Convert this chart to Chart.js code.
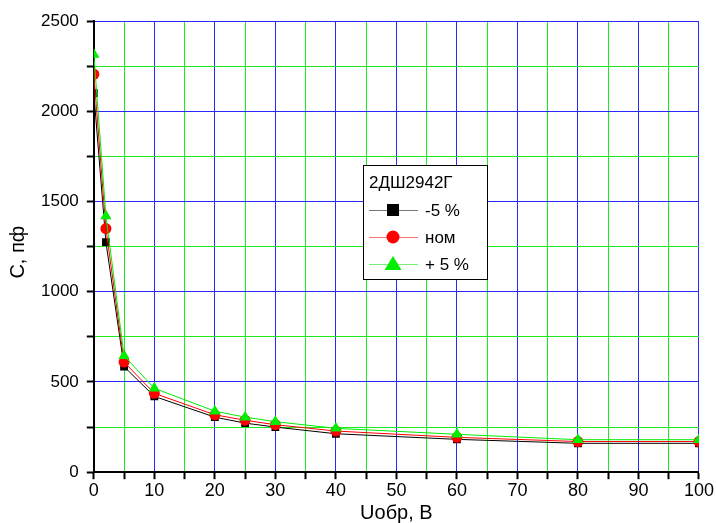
<!DOCTYPE html>
<html>
<head>
<meta charset="utf-8">
<script src="https://cdn.jsdelivr.net/npm/chart.js@4/dist/chart.umd.min.js"></script>
<style>
  html, body { margin: 0; padding: 0; background: #fff; }
  #wrap { width: 716px; height: 523px; }
</style>
</head>
<body>
<div id="wrap"><canvas id="grafico"></canvas></div>
<script>
// напряжение, В
var uobr = [0, 2, 5, 10, 20, 25, 30, 40, 60, 80, 100];
// ёмкость, пф
var cMinus5 = [2100, 1275, 585, 420, 305, 272, 250, 213, 182, 160, 160];
var cNom    = [2205, 1350, 610, 437, 318, 288, 263, 228, 193, 170, 170];
var cPlus5  = [2315, 1420, 645, 465, 338, 305, 280, 243, 210, 180, 180];

var legendTitle = '2ДШ2942Г';
var seriesNames = ['-5 %', 'ном', '+ 5 %'];

var BLUE = 'rgb(40,40,255)';
var GREEN = 'rgb(30,235,30)';
var FONT = 'Arial, "Liberation Sans", sans-serif';

function pts(ys) {
	return uobr.map(function(x, i) { return { x: x, y: ys[i] }; });
}

// легенда внутри области графика
var legendaInterna = {
	id: 'legendaInterna',
	afterDraw: function(chart) {
		var ctx = chart.ctx;
		var x0 = 363, y0 = 165, w = 124, h = 114;
		ctx.save();
		ctx.fillStyle = '#fff';
		ctx.fillRect(x0, y0, w, h);
		ctx.strokeStyle = '#000';
		ctx.lineWidth = 1;
		ctx.strokeRect(x0 + 0.5, y0 + 0.5, w, h);
		ctx.fillStyle = '#000';
		ctx.font = '17px ' + FONT;
		ctx.textBaseline = 'middle';
		ctx.fillText(legendTitle, x0 + 6, y0 + 18);
		chart.data.datasets.forEach(function(ds, i) {
			var y = y0 + 45 + i * 27;
			var cx = x0 + 30;
			ctx.strokeStyle = ds.legendLine;
			ctx.lineWidth = 1;
			ctx.beginPath();
			ctx.moveTo(x0 + 6, y + 0.5);
			ctx.lineTo(x0 + 55, y + 0.5);
			ctx.stroke();
			ctx.fillStyle = ds.pointBackgroundColor;
			ctx.beginPath();
			if (ds.pointStyle === 'rect') {
				ctx.fillRect(cx - 6, y - 6, 12, 12);
			} else if (ds.pointStyle === 'circle') {
				ctx.arc(cx, y, 6.5, 0, Math.PI * 2);
				ctx.fill();
			} else {
				ctx.moveTo(cx, y - 8);
				ctx.lineTo(cx + 8.5, y + 6);
				ctx.lineTo(cx - 8.5, y + 6);
				ctx.closePath();
				ctx.fill();
			}
			ctx.fillStyle = '#000';
			ctx.font = '17px ' + FONT;
			ctx.fillText(seriesNames[i], x0 + 62, y + 1);
		});
		ctx.restore();
	}
};

var grafico = new Chart(document.getElementById('grafico').getContext('2d'), {
	type: 'line',
	data: {
		datasets: [{
			label: seriesNames[0],
			data: pts(cMinus5),
			borderColor: '#000',
			legendLine: '#777',
			borderWidth: 1,
			pointStyle: 'rect',
			pointRadius: 5.5,
			pointBackgroundColor: '#000',
			pointBorderColor: '#000',
			pointBorderWidth: 0,
			order: 3
		}, {
			label: seriesNames[1],
			data: pts(cNom),
			borderColor: '#ff0000',
			legendLine: '#ff7070',
			borderWidth: 1,
			pointStyle: 'circle',
			pointRadius: 5.5,
			pointBackgroundColor: '#ff0000',
			pointBorderColor: '#ff0000',
			pointBorderWidth: 0,
			order: 2
		}, {
			label: seriesNames[2],
			data: pts(cPlus5),
			borderColor: '#00ee00',
			legendLine: '#77ee77',
			borderWidth: 1,
			pointStyle: 'triangle',
			pointRadius: 6.5,
			pointBackgroundColor: '#00ee00',
			pointBorderColor: '#00ee00',
			pointBorderWidth: 0,
			order: 1
		}]
	},
	options: {
		responsive: true,
		maintainAspectRatio: false,
		animation: false,
		layout: { padding: { top: 21, right: 2, left: 8, bottom: 0 } },
		plugins: {
			legend: { display: false },
			tooltip: { enabled: false }
		},
		scales: {
			x: {
				type: 'linear',
				min: 0,
				max: 100,
				ticks: {
					stepSize: 5,
					color: '#000',
					font: { size: 18, family: FONT, lineHeight: 1.1 },
					padding: 2,
					maxRotation: 0,
					autoSkip: false,
					callback: function(v) { return v % 10 === 0 ? v : ''; }
				},
				grid: {
					color: function(c) { return c.tick && c.tick.value % 10 === 0 ? BLUE : GREEN; },
					lineWidth: 1,
					tickColor: '#000',
					tickLength: 7,
					tickWidth: 2
				},
				border: { color: '#000', width: 2 },
				title: {
					display: true,
					text: 'Uобр, В',
					color: '#000',
					font: { size: 20, family: FONT, lineHeight: 1 },
					padding: { top: 0, bottom: 0 }
				}
			},
			y: {
				min: 0,
				max: 2500,
				ticks: {
					stepSize: 250,
					color: '#000',
					font: { size: 17, family: FONT },
					padding: 8,
					autoSkip: false,
					callback: function(v) { return v % 500 === 0 ? v : ''; }
				},
				grid: {
					color: function(c) { return c.tick && c.tick.value % 500 === 0 ? BLUE : GREEN; },
					lineWidth: 1,
					tickColor: '#000',
					tickLength: 7,
					tickWidth: 2
				},
				border: { color: '#000', width: 2 },
				title: {
					display: true,
					text: 'С, пф  ',
					color: '#000',
					font: { size: 20, family: FONT, lineHeight: 1 },
					padding: { top: 0, bottom: 5 }
				}
			}
		}
	},
	plugins: [legendaInterna]
});
</script>
</body>
</html>
